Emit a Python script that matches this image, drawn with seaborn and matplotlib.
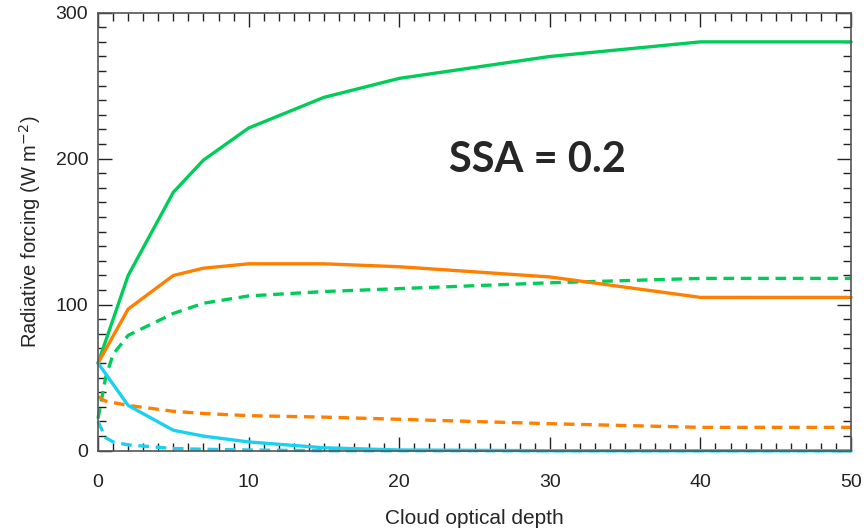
import numpy as np
import pandas as pd
import seaborn as sns
import matplotlib.pyplot as plt
from matplotlib.ticker import MultipleLocator

# optical depth sampling
tau_solid = [0, 2, 5, 7, 10, 15, 20, 30, 40, 50]
tau_dashed = [0, 0.5, 1, 2, 5, 7, 10, 15, 20, 30, 40, 50]

# radiative forcing (W m-2)
green_solid = [60, 120, 177, 199, 221, 242, 255, 270, 280, 280]
orange_solid = [60, 97, 120, 125, 128, 128, 126, 119, 105, 105]
cyan_solid = [60, 31, 14, 10, 6, 2, 0.5, 0, 0, 0]

green_dashed = [22, 50, 66, 79, 94, 101, 106, 109, 111, 115, 118, 118]
orange_dashed = [37, 34, 33, 31, 27, 25.5, 24, 23, 21.5, 18.5, 16, 16]
cyan_dashed = [20, 9, 6, 4, 1.5, 1, 0.5, 0, 0, 0, 0, 0]

colores = {"green": "#00cc5a", "orange": "#ff8000", "cyan": "#1ad2f0"}

partes = []
for nombre, tau, vals, estilo in [
    ("green", tau_solid, green_solid, "solid"),
    ("orange", tau_solid, orange_solid, "solid"),
    ("cyan", tau_solid, cyan_solid, "solid"),
    ("green", tau_dashed, green_dashed, "dashed"),
    ("orange", tau_dashed, orange_dashed, "dashed"),
    ("cyan", tau_dashed, cyan_dashed, "dashed"),
]:
    partes.append(pd.DataFrame({"tau": tau, "rf": vals, "serie": nombre, "estilo": estilo}))
df = pd.concat(partes, ignore_index=True)

sns.set_style("ticks")
plt.rcParams["font.family"] = ["Liberation Sans", "DejaVu Sans"]

fig, ax = plt.subplots(figsize=(8.66, 5.28), dpi=100)
fig.subplots_adjust(left=0.1132, right=0.9827, top=0.976, bottom=0.1464)

sns.lineplot(data=df, x="tau", y="rf", hue="serie", style="estilo",
             palette=colores, dashes={"solid": "", "dashed": (3.2, 2)},
             linewidth=2.4, legend=False, ax=ax, sort=False, estimator=None)
for ln in ax.lines:
    ln.set_clip_on(False)

ax.set_xlim(0, 50)
ax.set_ylim(0, 300)
ax.set_xticks([0, 10, 20, 30, 40, 50])
ax.set_yticks([0, 100, 200, 300])
ax.xaxis.set_minor_locator(MultipleLocator(1))
ax.yaxis.set_minor_locator(MultipleLocator(10))
ax.tick_params(which="both", direction="in", top=True, right=True, colors="#222222")
ax.tick_params(which="major", length=10, width=1)
ax.tick_params(which="minor", length=6, width=1)
ax.tick_params(axis="x", which="major", pad=17, labelsize=14)
ax.tick_params(axis="y", which="major", pad=7, labelsize=14)
for sp in ax.spines.values():
    sp.set_color("#555555")
    sp.set_linewidth(1.2)

ax.set_xlabel("Cloud optical depth", fontsize=15, labelpad=13)
ax.set_ylabel("Radiative forcing (W m$^{-2}$)", fontsize=14.5, labelpad=9)

ax.text(0.583, 0.664, "SSA = 0.2", transform=ax.transAxes, ha="center", va="center",
        fontsize=30, fontweight="bold", family=["Lato", "DejaVu Sans"])

plt.savefig("out.png", dpi=100)
